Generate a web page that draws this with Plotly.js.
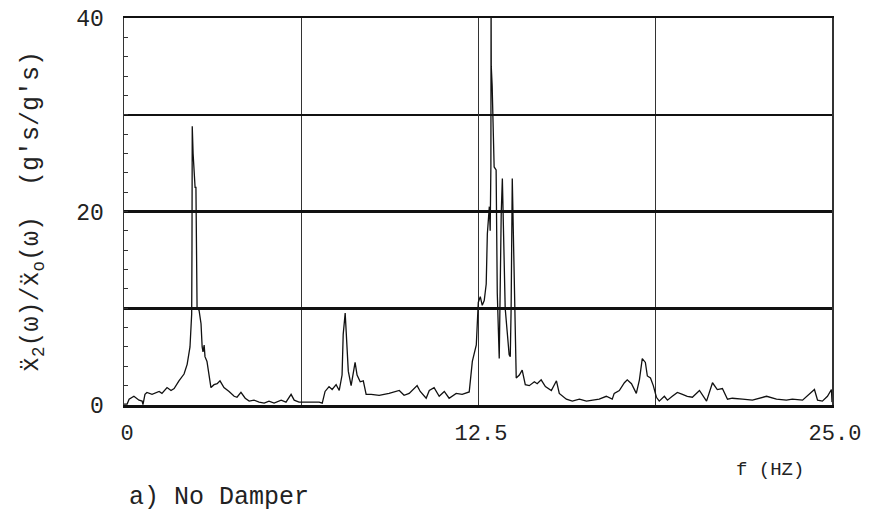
<!DOCTYPE html>
<html>
<head>
<meta charset="utf-8">
<script src="https://cdn.plot.ly/plotly-3.0.1.min.js"></script>
<style>
  html, body { margin: 0; padding: 0; background: #fff; }
  #chart { width: 869px; height: 512px; }
</style>
</head>
<body>
<div id="chart"></div>
<script>
// Transmissibility spectrum, no damper: frequency (Hz) and response ratio (g's/g's)
const freq = [
  0.00, 0.11, 0.18, 0.35, 0.53, 0.64, 0.67, 0.74, 0.81, 0.99, 1.24, 1.34, 1.52, 1.66, 1.77, 1.94,
  2.12, 2.23, 2.33, 2.39, 2.40, 2.41, 2.44, 2.47, 2.51, 2.54, 2.58, 2.65, 2.72, 2.76, 2.79, 2.83,
  2.86, 2.93, 3.00, 3.07, 3.18, 3.29, 3.39, 3.53, 3.71, 3.89, 3.99, 4.13, 4.28, 4.42, 4.59, 4.77,
  4.95, 5.12, 5.30, 5.55, 5.72, 5.90, 6.01, 6.18, 6.54, 6.89, 7.00, 7.10, 7.24, 7.35, 7.49, 7.60,
  7.70, 7.74, 7.81, 7.86, 7.92, 8.02, 8.09, 8.16, 8.23, 8.34, 8.45, 8.55, 8.73, 9.01, 9.36, 9.72,
  9.89, 10.07, 10.35, 10.46, 10.67, 10.78, 10.95, 11.13, 11.31, 11.48, 11.73, 11.94, 12.19, 12.30,
  12.44, 12.51, 12.58, 12.65, 12.72, 12.79, 12.83, 12.90, 12.93, 12.955, 12.962, 12.968, 13.00,
  13.04, 13.07, 13.14, 13.18, 13.25, 13.29, 13.32, 13.36, 13.39, 13.43, 13.46, 13.53, 13.60, 13.64,
  13.67, 13.71, 13.75, 13.78, 13.82, 13.85, 13.96, 14.06, 14.17, 14.31, 14.49, 14.59, 14.73, 14.88,
  15.09, 15.27, 15.37, 15.62, 15.83, 16.08, 16.33, 16.54, 16.78, 17.03, 17.24, 17.31, 17.49, 17.67,
  17.77, 17.92, 17.99, 18.09, 18.20, 18.30, 18.41, 18.48, 18.59, 18.69, 18.80, 18.90, 19.08, 19.19,
  19.36, 19.54, 19.72, 19.89, 20.07, 20.32, 20.57, 20.78, 20.95, 21.13, 21.31, 21.48, 21.84, 22.19,
  22.69, 23.04, 23.39, 23.60, 23.96, 24.28, 24.38, 24.49, 24.66, 24.84, 24.98, 25.00
];
const resp = [
  0.1, 0.1, 0.6, 0.9, 0.5, 0.4, 0.05, 1.1, 1.3, 1.1, 1.4, 1.2, 1.8, 1.5, 1.7, 2.5,
  3.2, 4.2, 6.0, 9.4, 16.0, 28.8, 26.0, 24.0, 22.5, 22.5, 10.0, 9.8, 8.4, 6.0, 5.5, 6.2,
  5.0, 4.5, 3.2, 1.8, 2.1, 2.2, 2.5, 1.8, 1.4, 0.9, 0.8, 1.3, 0.7, 0.4, 0.5, 0.3,
  0.2, 0.4, 0.2, 0.5, 0.3, 1.1, 0.5, 0.3, 0.3, 0.3, 0.2, 1.4, 1.9, 1.6, 2.1, 1.5,
  3.1, 7.3, 9.5, 6.7, 3.5, 2.0, 3.2, 4.4, 3.1, 2.4, 2.5, 1.1, 1.1, 1.0, 1.2, 1.5,
  1.0, 1.2, 2.0, 1.4, 0.7, 1.5, 1.8, 0.9, 1.4, 0.7, 1.2, 1.1, 1.35, 4.5,
  6.2, 10.6, 11.2, 10.3, 10.8, 12.5, 17.7, 20.5, 18.0, 24.7, 42.0, 35.0, 33.0,
  27.0, 24.6, 24.3, 11.6, 4.8, 15.6, 19.8, 23.4, 19.0, 14.6, 10.0, 7.6, 5.2, 5.0,
  10.0, 23.4, 18.0, 12.0, 7.6, 2.8, 3.1, 3.6, 2.1, 2.0, 2.4, 2.2, 2.6, 1.9,
  1.5, 2.5, 1.2, 0.6, 0.4, 0.6, 0.4, 0.5, 0.6, 0.9, 0.6, 1.2, 1.5, 2.3,
  2.6, 2.2, 1.8, 1.2, 2.6, 4.8, 4.4, 3.0, 2.8, 2.0, 0.8, 0.4, 0.9, 0.5,
  0.9, 1.3, 1.1, 0.9, 0.8, 1.5, 0.4, 2.3, 1.6, 1.7, 0.6, 0.7, 0.6, 0.5,
  0.9, 0.6, 0.5, 0.6, 0.5, 1.3, 1.6, 0.5, 0.4, 0.9, 1.6, 0.3
];

// Axis tick positions and labels
const xTickVals = [0, 12.5, 25];
const xTickText = ['0', '12.5', '25.0'];
const yTickVals = [0, 20, 40];
const yTickText = ['0', '20', '40'];

const mono = 'Liberation Mono, DejaVu Sans Mono, monospace';

const trace = {
  x: freq,
  y: resp,
  type: 'scatter',
  mode: 'lines',
  line: { color: '#111', width: 1.3, shape: 'linear' },
  hoverinfo: 'x+y',
  showlegend: false
};

const layout = {
  width: 869,
  height: 512,
  margin: { l: 124, r: 37, t: 18, b: 107 },
  paper_bgcolor: '#ffffff',
  plot_bgcolor: '#ffffff',
  font: { family: mono, color: '#222' },
  xaxis: {
    range: [0, 25],
    tickvals: xTickVals,
    ticktext: xTickText,
    showgrid: true,
    gridcolor: '#333',
    gridwidth: 1,
    minor: { dtick: 6.25, showgrid: true, gridcolor: '#333', gridwidth: 1, ticks: '' },
    zeroline: false,
    showline: true,
    linecolor: '#111',
    linewidth: 2.5,
    mirror: true,
    ticks: '',
    ticklabelstandoff: 6,
    ticklabelshift: 3,
    tickfont: { family: mono, size: 22, color: '#222' }
  },
  yaxis: {
    range: [0, 40],
    tickvals: yTickVals,
    ticktext: yTickText,
    showgrid: true,
    gridcolor: '#111',
    gridwidth: 2.5,
    // heavy grid lines halfway between the labelled values
    minor: { dtick: 10, showgrid: true, gridcolor: '#111', gridwidth: 2.5, ticks: '' },
    zeroline: false,
    showline: true,
    linecolor: '#333',
    linewidth: 1.5,
    mirror: true,
    ticks: '',
    ticklabelstandoff: 14,
    tickfont: { family: mono, size: 23, color: '#222' },
    title: {
      text: 'x\u0308<sub>2</sub>(\u03c9)/x\u0308<sub>o</sub>(\u03c9)\u00a0\u00a0(g\'s/g\'s)',
      font: { family: mono, size: 25, color: '#222' },
      standoff: 30
    }
  },
  // second, label-free y scale carrying the short inner ticks every 2 units
  yaxis2: {
    overlaying: 'y',
    side: 'left',
    range: [0, 40],
    dtick: 2,
    showticklabels: false,
    ticks: 'inside',
    ticklen: 4,
    tickwidth: 1,
    tickcolor: '#333',
    showgrid: false,
    zeroline: false,
    showline: false
  },
  annotations: [
    {
      text: 'f (HZ)',
      xref: 'paper', yref: 'paper',
      x: 0.912, y: -0.168,
      xanchor: 'center', yanchor: 'middle',
      showarrow: false,
      font: { family: mono, size: 19, color: '#222' }
    },
    {
      text: 'a) No Damper',
      xref: 'paper', yref: 'paper',
      x: 0.004, y: -0.238,
      xanchor: 'left', yanchor: 'middle',
      showarrow: false,
      font: { family: mono, size: 25, color: '#222' }
    }
  ]
};

// empty helper trace so the second y scale is drawn
const tickHolder = { x: [], y: [], yaxis: 'y2', type: 'scatter', mode: 'lines', showlegend: false, hoverinfo: 'skip' };

Plotly.newPlot('chart', [tickHolder, trace], layout, { staticPlot: true, displayModeBar: false });
</script>
</body>
</html>
